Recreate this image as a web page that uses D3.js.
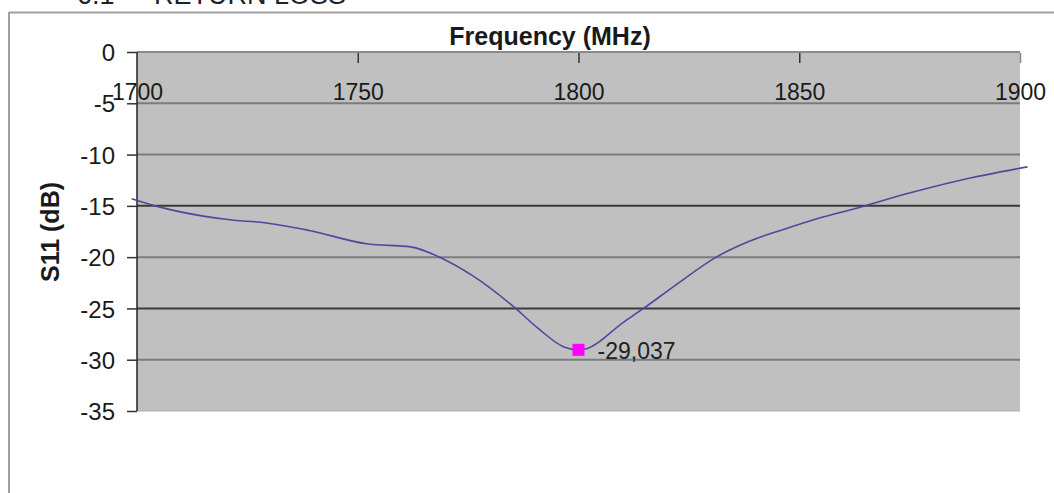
<!DOCTYPE html>
<html><head><meta charset="utf-8">
<script src="https://cdn.jsdelivr.net/npm/d3@7"></script>
<style>html,body{margin:0;padding:0;background:#fff;overflow:hidden}</style>
</head><body>
<svg id="chart" width="1054" height="493"></svg>
<script>
// ---- data ----
const frequencies = [1698.8, 1705, 1715, 1722, 1728, 1739, 1752, 1762, 1769, 1776, 1785.5, 1791, 1796.7, 1800, 1802, 1810, 1814.4, 1822.4, 1831.2, 1838.4, 1846.4, 1854.4, 1863.2, 1874.5, 1886.5, 1901.7];
const s11 = [-14.3, -15.1, -16.0, -16.4, -16.6, -17.4, -18.7, -19.0, -20.1, -21.8, -24.9, -27.0, -28.75, -29.037, -28.9, -26.4, -25.1, -22.6, -20.0, -18.5, -17.3, -16.2, -15.2, -13.8, -12.5, -11.2];
const xTicks = [1700, 1750, 1800, 1850, 1900];
const yTicks = [0, -5, -10, -15, -20, -25, -30, -35];
const markerFreq = [1800];
const markerValue = [-29.037];
const markerLabel = ["-29,037"];

const svg = d3.select("#chart");
const font = "'Liberation Sans', Arial, sans-serif";
const L = 137, R = 1020, T = 52, B = 411;
const x = d3.scaleLinear().domain([1700, 1900]).range([L, R]);
const y = d3.scaleLinear().domain([0, -35]).range([T, B]);

// header text (cut off at top, as in the reference)
svg.append("text").attr("x", 77).attr("y", 4).attr("font-family", font).attr("font-size", 27).attr("fill", "#222").text("6.1");
svg.append("text").attr("x", 154).attr("y", 4).attr("font-family", font).attr("font-size", 27).attr("fill", "#222").text("RETURN LOSS");

// outer frame
svg.append("line").attr("x1", 9).attr("x2", 1054).attr("y1", 12.5).attr("y2", 12.5).attr("stroke", "#a0a0a0").attr("stroke-width", 2);
svg.append("line").attr("x1", 9).attr("x2", 9).attr("y1", 12).attr("y2", 493).attr("stroke", "#a0a0a0").attr("stroke-width", 2);

// plot area
svg.append("rect").attr("x", L).attr("y", T).attr("width", R - L).attr("height", B - T).attr("fill", "#c0c0c0");

// gridlines
svg.append("g").selectAll("line").data(yTicks.filter(v => v !== 0 && v !== -35)).join("line")
  .attr("x1", L).attr("x2", R).attr("y1", d => y(d)).attr("y2", d => y(d))
  .attr("stroke", d => (d === -15 || d === -25) ? "#3a3a3a" : "#7c7c7c")
  .attr("stroke-width", 2);
// bottom edge
svg.append("line").attr("x1", L).attr("x2", R).attr("y1", B).attr("y2", B).attr("stroke", "#b0b0b0").attr("stroke-width", 1);
// top axis line (x axis at 0)
svg.append("line").attr("x1", L).attr("x2", R).attr("y1", y(0)).attr("y2", y(0)).attr("stroke", "#8a8a8a").attr("stroke-width", 2);

// x axis ticks (inside, downward) and labels
const xAxis = d3.axisBottom(x).tickValues(xTicks).tickSize(0).tickPadding(0).tickFormat(d => String(d));
const gx = svg.append("g").attr("transform", `translate(0,${y(0)})`).call(xAxis);
gx.select(".domain").remove();
gx.selectAll(".tick text").attr("y", 48).attr("dy", 0).attr("font-family", font).attr("font-size", 23).attr("fill", "#1a1a1a");
gx.selectAll(".tick").filter(d => d !== 1700).append("line").attr("y1", 1).attr("y2", 11)
  .attr("stroke", d => d === 1900 ? "#888" : "#333").attr("stroke-width", 1.5);

// y axis
const yAxis = d3.axisLeft(y).tickValues(yTicks).tickSize(10).tickPadding(12).tickFormat(d => String(d));
const gy = svg.append("g").attr("transform", `translate(${L},0)`).call(yAxis);
gy.select(".domain").attr("stroke", "#222").attr("stroke-width", 1.5).attr("d", `M0,${T}V${B}`);
gy.selectAll(".tick line").attr("stroke", "#333").attr("stroke-width", 1.5);
gy.selectAll(".tick text").attr("font-family", font).attr("font-size", 24).attr("fill", "#1a1a1a").attr("dy", "0.36em");

// axis titles
svg.append("text").attr("x", 550).attr("y", 45).attr("text-anchor", "middle").attr("font-family", font)
  .attr("font-weight", "bold").attr("font-size", 25).attr("fill", "#1a1a1a").text("Frequency (MHz)");
svg.append("text").attr("transform", "translate(59,232) rotate(-90)").attr("text-anchor", "middle").attr("font-family", font)
  .attr("font-weight", "bold").attr("font-size", 25).attr("fill", "#1a1a1a").text("S11 (dB)");

// curve
const pts = frequencies.map((f, i) => [f, s11[i]]);
const line = d3.line().x(d => x(d[0])).y(d => y(d[1])).curve(d3.curveMonotoneX);
svg.append("path").datum(pts).attr("d", line).attr("fill", "none").attr("stroke", "#4a4a9e").attr("stroke-width", 1.6);

// marker
const mk = markerFreq.map((f, i) => ({ f, v: markerValue[i], t: markerLabel[i] }));
svg.append("g").selectAll("rect").data(mk).join("rect")
  .attr("x", d => x(d.f) - 6).attr("y", d => y(d.v) - 6).attr("width", 12).attr("height", 12).attr("fill", "#ff00ff");
svg.append("g").selectAll("text").data(mk).join("text")
  .attr("x", d => x(d.f) + 19).attr("y", d => y(d.v) + 9).attr("font-family", font).attr("font-size", 23).attr("fill", "#222").text(d => d.t);
</script>
</body></html>
